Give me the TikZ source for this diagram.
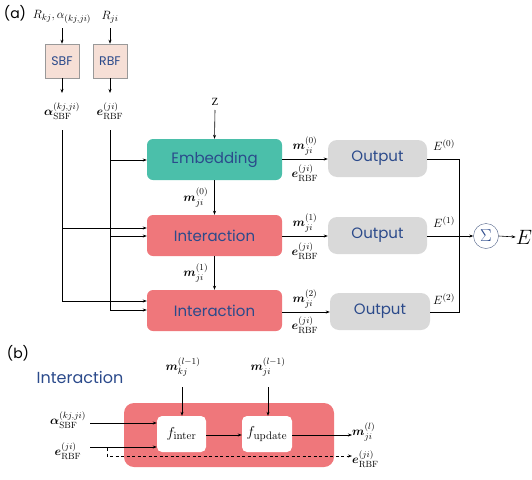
\documentclass[tikz,border=0pt]{standalone}
\usepackage{amsmath}
\usepackage{bm}
\usepackage[no-math]{fontspec}
\setmainfont{Liberation Serif}
\newfontfamily\pop{Poppins}
\usetikzlibrary{arrows.meta,positioning,calc}
\definecolor{teal1}{HTML}{4BBFAA}
\definecolor{red1}{HTML}{EF777B}
\definecolor{gray1}{HTML}{D9D9D9}
\definecolor{pink1}{HTML}{F6DFD6}
\definecolor{blue1}{HTML}{2B4A8B}
\begin{document}
\begin{tikzpicture}[x=1pt,y=-1pt,
  lab/.style={inner sep=0pt,font=\fontsize{13}{15}\selectfont},
  bfbox/.style={draw=gray!80,fill=pink1,line width=0.6pt,minimum width=34pt,minimum height=34pt,inner sep=0pt,font=\pop\fontsize{12.5}{14}\selectfont,text=blue1},
  bigbox/.style={rounded corners=6pt,minimum width=135pt,minimum height=41pt,inner sep=0pt,font=\pop\fontsize{15}{17}\selectfont,text=blue1},
  outbox/.style={rounded corners=9pt,fill=gray1,minimum width=99pt,minimum height=37pt,inner sep=0pt,font=\pop\fontsize{15}{17}\selectfont,text=blue1},
  fbox/.style={rounded corners=5pt,fill=white,minimum height=36pt,inner sep=0pt,font=\fontsize{15}{17}\selectfont},
  arr/.style={-{Stealth[length=4pt,width=3pt]},line width=0.6pt},
  ln/.style={line width=0.6pt}]
\useasboundingbox (0,0) rectangle (532,479);
% part (a)
\node[font=\pop\fontsize{14}{16}\selectfont] (la) at (15,13) {(a)};
\node[lab] (rin) at (62,17) {$R_{kj},\alpha_{(kj,ji)}$};
\node[lab] (rji) at (110,17) {$R_{ji}$};
\node[bfbox] (sbf) at (62,61) {SBF};
\node[bfbox] (rbf) at (110,61) {RBF};
\draw[arr] (62,28) -- (sbf.north);
\draw[arr] (110,28) -- (rbf.north);
\node[lab] (asbf) at (62,111) {$\bm{\alpha}_{\mathrm{SBF}}^{(kj,ji)}$};
\node[lab] (erbf) at (110,111) {$\bm{e}_{\mathrm{RBF}}^{(ji)}$};
\draw[arr] (sbf.south) -- (62,93);
\draw[arr] (rbf.south) -- (110,93);
\node[lab,font=\fontsize{11}{13}\selectfont] (z) at (215,102) {Z};
\node[bigbox,fill=teal1] (emb) at (214.5,159.5) {Embedding};
\node[bigbox,fill=red1] (i1) at (214.5,235.5) {Interaction};
\node[bigbox,fill=red1] (i2) at (214.5,310.5) {Interaction};
\draw[arr] (215,110) -- (emb.north);
\draw[arr] (emb.south) -- node[lab,left=6pt] {$\bm{m}_{ji}^{(0)}$} (i1.north);
\draw[arr] (i1.south) -- node[lab,left=6pt] {$\bm{m}_{ji}^{(1)}$} (i2.north);
% left feeds
\coordinate (st) at (62,130);
\coordinate (rt) at (110,130);
\draw[ln] (st) -- (62,301);
\draw[ln] (rt) -- (110,310);
\draw[arr] (110,160) -- (emb.west |- 0,160);
\draw[arr] (62,228) -- (i1.west |- 0,228);
\draw[arr] (110,236) -- (i1.west |- 0,236);
\draw[arr] (62,301) -- (i2.west |- 0,301);
\draw[arr] (110,310) -- (i2.west |- 0,310);
% outputs
\node[outbox] (o1) at (377.5,158.5) {Output};
\node[outbox] (o2) at (377.5,235.5) {Output};
\node[outbox,minimum width=100pt] (o3) at (380,311.5) {Output};
\draw[arr] (emb.east |- 0,159) -- (o1.west |- 0,159);
\draw[arr] (i1.east |- 0,236) -- (o2.west |- 0,236);
\draw[arr] (i2.east |- 0,312) -- (o3.west |- 0,312);
\node[lab] at (305,146) {$\bm{m}_{ji}^{(0)}$};
\node[lab] at (305,173) {$\bm{e}_{\mathrm{RBF}}^{(ji)}$};
\node[lab] at (305,223) {$\bm{m}_{ji}^{(1)}$};
\node[lab] at (305,251) {$\bm{e}_{\mathrm{RBF}}^{(ji)}$};
\node[lab] at (305,299) {$\bm{m}_{ji}^{(2)}$};
\node[lab] at (305,325) {$\bm{e}_{\mathrm{RBF}}^{(ji)}$};
\node[lab] at (444,145) {$E^{(0)}$};
\node[lab] at (444,222) {$E^{(1)}$};
\node[lab] at (444,299) {$E^{(2)}$};
\node[draw=blue1!60!gray,circle,minimum size=25pt,inner sep=0pt,text=blue1,font=\fontsize{18}{20}\selectfont] (sum) at (486,236) {$\Sigma$};
\node[font=\fontsize{20}{22}\selectfont,inner sep=0pt] (E) at (524,237) {$E$};
\coordinate (c1) at (459,159);
\coordinate (c3) at (459,312);
\draw[ln] (o1.east |- 0,159) -- (c1) -- (c3) -- (o3.east |- 0,312);
\draw[arr] (o2.east |- 0,236) -- (sum.west);
\draw[arr] (sum.east) -- (E.west);
% part (b)
\node[font=\pop\fontsize{14}{16}\selectfont] (lb) at (18,353) {(b)};
\node[font=\pop\fontsize{16}{18}\selectfont,text=blue1] (title) at (80,377) {Interaction};
\node[fill=red1,rounded corners=10pt,minimum width=210pt,minimum height=64pt,inner sep=0pt] (blk) at (229,435) {};
\node[fbox,minimum width=49pt] (fi) at (181.5,434) {$f_{\mathrm{inter}}$};
\node[fbox,minimum width=50pt] (fu) at (267,434) {$f_{\mathrm{update}}$};
\node[lab] (mkj) at (183,367) {$\bm{m}_{kj}^{(l-1)}$};
\node[lab] (mji) at (268,367) {$\bm{m}_{ji}^{(l-1)}$};
\draw[arr] (182,387) -- (fi.north -| 182,0);
\draw[arr] (268,387) -- (fu.north -| 268,0);
\node[lab] (ab) at (68,420) {$\bm{\alpha}_{\mathrm{SBF}}^{(kj,ji)}$};
\node[lab] (eb) at (68,451) {$\bm{e}_{\mathrm{RBF}}^{(ji)}$};
\draw[arr] (90,423) -- (fi.west |- 0,423);
\draw[arr] (90,447) -- (fi.west |- 0,447);
\draw[arr] (fi.east |- 0,435) -- (fu.west |- 0,435);
\node[lab,anchor=west] (mout) at (352,432) {$\bm{m}_{ji}^{(l)}$};
\node[lab,anchor=west] (eout) at (352,459) {$\bm{e}_{\mathrm{RBF}}^{(ji)}$};
\draw[arr] (fu.east |- 0,435) -- (mout.west |- 0,435);
\draw[arr,dashed,dash pattern=on 3pt off 2.5pt] (107,448) -- (107,456) -- (mout.west |- 0,456);
\end{tikzpicture}
\end{document}
